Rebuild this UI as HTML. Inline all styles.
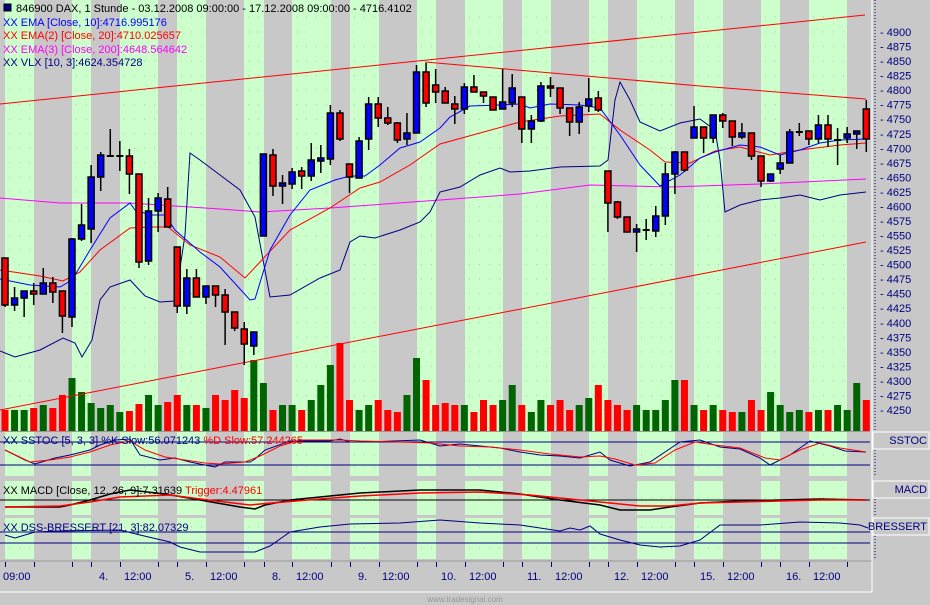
<!DOCTYPE html>
<html><head><meta charset="utf-8">
<style>
html,body{margin:0;padding:0;background:#c8c8c8;}
#w{position:relative;width:930px;height:605px;overflow:hidden;background:#c8c8c8;font-family:"Liberation Sans",sans-serif;}
svg{position:absolute;left:0;top:0;}
text{font-family:"Liberation Sans",sans-serif;font-size:11px;}
</style></head><body><div id="w">
<svg id="s" width="930" height="605" viewBox="0 0 930 605" xmlns="http://www.w3.org/2000/svg">
<g id="bands"></g>
<g id="grid"></g>
<g id="vol"></g>
<g id="lines" fill="none" stroke-width="1"></g>
<g id="candles"></g>
<g id="sub" fill="none"></g>
<line x1="0" y1="561" x2="872" y2="561" stroke="#999"/>
<line x1="0" y1="592" x2="872" y2="592" stroke="#fff"/>
<line x1="872" y1="0" x2="872" y2="592" stroke="#fff"/>
<line x1="875" y1="0" x2="875" y2="432" stroke="#000080" stroke-dasharray="1,2"/>
<line x1="875" y1="450" x2="875" y2="476" stroke="#000080" stroke-dasharray="1,2"/>
<line x1="875" y1="499" x2="875" y2="515" stroke="#000080" stroke-dasharray="1,2"/>
<line x1="875" y1="536" x2="875" y2="559" stroke="#000080" stroke-dasharray="1,2"/>
<g id="ticks" stroke="#000080"></g>
<g fill="#000080">
<text x="3" y="580">09:00</text>
<text x="99" y="580">4.</text>
<text x="124" y="580">12:00</text>
<text x="185" y="580">5.</text>
<text x="210" y="580">12:00</text>
<text x="272" y="580">8.</text>
<text x="296" y="580">12:00</text>
<text x="358" y="580">9.</text>
<text x="382" y="580">12:00</text>
<text x="441" y="580">10.</text>
<text x="469" y="580">12:00</text>
<text x="527" y="580">11.</text>
<text x="555" y="580">12:00</text>
<text x="614" y="580">12.</text>
<text x="641" y="580">12:00</text>
<text x="700" y="580">15.</text>
<text x="727" y="580">12:00</text>
<text x="786" y="580">16.</text>
<text x="813" y="580">12:00</text>
</g>
<g id="plabels" fill="#000080"></g>
<g stroke="#fff" fill="#c8c8c8">
<rect x="873" y="432" width="56" height="17"/>
<rect x="873" y="481" width="56" height="17"/>
<rect x="873" y="518" width="56" height="17"/>
</g>
<g fill="#000080" text-anchor="end">
<text x="927" y="444">SSTOC</text>
<text x="927" y="493">MACD</text>
<text x="927" y="530">BRESSERT</text>
</g>
<text x="465" y="602" fill="#999" text-anchor="middle" style="font-size:8px">www.tradesignal.com</text>
<rect x="4" y="4" width="7" height="7" fill="#000080" stroke="#000" stroke-width="1"/>
<text x="16" y="12" fill="#000">846900  DAX, 1 Stunde - 03.12.2008 09:00:00 - 17.12.2008 09:00:00 - 4716.4102</text>
<text x="3" y="26" fill="#0000ff">XX EMA [Close, 10]:4716.995176</text>
<text x="3" y="39" fill="#ff0000">XX EMA(2) [Close, 20]:4710.025657</text>
<text x="3" y="53" fill="#ff00ff">XX EMA(3) [Close, 200]:4648.564642</text>
<text x="3" y="66" fill="#000080">XX VLX [10, 3]:4624.354728</text>
<text x="3" y="444" fill="#000080">XX SSTOC [5, 3, 3] %K Slow:56.071243 <tspan fill="#ff0000">%D Slow:57.244265</tspan></text>
<text x="3" y="494" fill="#000">XX MACD [Close, 12, 26, 9]:7.31639 <tspan fill="#ff0000">Trigger:4.47961</tspan></text>
<text x="3" y="531" fill="#000080">XX DSS-BRESSERT [21, 3]:82.07329</text>
</svg>
<script>
var NS="http://www.w3.org/2000/svg";
function el(p,t,a){var e=document.createElementNS(NS,t);for(var k in a)e.setAttribute(k,a[k]);document.getElementById(p).appendChild(e);return e;}
var B=[[5,34],[72,91],[120,158],[177,206],[244,264],[292,331],[350,379],[417,436],[465,503],[522,551],[589,608],[637,675],[694,723],[761,780],[809,847]];
var P=[[0,432],[432,476],[481,515],[518,559]];
var GY=[];
for(var p=4900;p>=4250;p-=25){var y=32+(4900-p)*0.5815;GY.push(y);
 var t=el("plabels","text",{x:880,y:y+4});t.textContent="- "+p;}
GY=GY.concat([17,455,467,498,527,548]);
B.forEach(function(b){P.forEach(function(p){el("bands","rect",{x:b[0],y:p[0],width:b[1]-b[0],height:p[1]-p[0],fill:"#ccffcc"});});
 GY.forEach(function(y){el("grid","line",{x1:b[0]+4,y1:y,x2:b[1],y2:y,stroke:"#a8c8a8","stroke-dasharray":"1,9"});});
 el("ticks","line",{x1:b[0]+.5,y1:562,x2:b[0]+.5,y2:567});el("ticks","line",{x1:b[1]+.5,y1:562,x2:b[1]+.5,y2:567});});
var C=[[258,305,258,307,'r'],[298,305,287,311,'b'],[291,298,291,317,'b'],[291,294,283,305,'r'],[283,294,268,294,'b'],[283,292,277,303,'r'],[291,316,291,333,'r'],[239,317,238,327,'b'],[225,239,204,241,'b'],[177,229,165,243,'b'],[155,177,152,191,'b'],[155,156,129,156,'d'],[155,156,141,171,'d'],[156,174,149,194,'r'],[174,262,174,268,'r'],[211,261,198,265,'b'],[198,211,193,232,'b'],[199,227,187,227,'r'],[247,306,247,313,'r'],[278,306,269,314,'b'],[278,297,269,297,'r'],[286,297,286,304,'b'],[286,295,286,307,'r'],[295,312,289,345,'r'],[312,328,312,331,'r'],[329,344,322,365,'r'],[332,346,332,355,'b'],[154,236,154,236,'b'],[155,186,149,196,'r'],[183,186,175,204,'b'],[172,184,168,189,'b'],[171,176,167,189,'r'],[160,176,143,181,'b'],[158,161,145,173,'b'],[113,159,105,165,'b'],[113,139,110,141,'r'],[164,177,164,193,'r'],[141,178,137,178,'b'],[104,139,97,150,'b'],[104,118,97,127,'r'],[118,123,107,125,'r'],[123,140,122,143,'r'],[133,139,113,145,'b'],[72,133,65,133,'b'],[72,103,63,107,'r'],[85,92,69,103,'r'],[91,103,87,103,'r'],[104,109,96,124,'r'],[87,109,83,114,'b'],[87,92,75,92,'r'],[92,96,92,103,'r'],[97,110,97,110,'r'],[102,109,69,109,'b'],[88,103,74,107,'b'],[97,129,97,143,'r'],[121,129,115,143,'b'],[86,121,82,122,'b'],[86,88,77,97,'r'],[88,108,88,114,'r'],[108,122,108,136,'r'],[107,122,102,134,'b'],[99,106,78,112,'b'],[98,110,91,112,'r'],[171,203,171,232,'r'],[202,217,201,219,'r'],[217,232,217,232,'r'],[229,232,224,252,'b'],[229,231,219,240,'d'],[216,231,206,237,'b'],[174,216,163,225,'b'],[152,174,151,194,'b'],[152,170,152,172,'r'],[127,138,106,138,'b'],[127,138,127,153,'r'],[115,138,115,143,'b'],[115,121,113,128,'r'],[121,137,121,146,'r'],[133,137,123,139,'b'],[133,156,133,160,'r'],[156,181,156,187,'r'],[174,181,174,182,'b'],[163,169,155,174,'b'],[132,163,129,163,'b'],[131,132,123,136,'d'],[131,139,131,145,'r'],[125,139,115,143,'b'],[125,139,115,147,'r'],[139,140,128,165,'d'],[134,138,127,143,'b'],[131,134,131,149,'b'],[109,139,100,152,'r']];
var V=[410,410,410,408,405,408,395,378,392,403,408,405,412,411,404,395,405,402,395,405,405,408,395,400,390,398,360,383,410,405,405,410,400,385,365,343,400,410,405,400,410,412,395,358,380,405,403,405,405,412,400,405,400,385,405,412,400,405,400,410,405,398,385,400,405,410,405,410,410,400,380,380,405,410,405,410,412,412,400,410,392,405,412,410,412,410,410,405,410,383,400];
function cx(i){return 5+i*9.57;}
C.forEach(function(c,i){var x=cx(i),col=c[4]=='r'?'#ff0000':'#0000ff';
 var vy=V[i]||410;el("vol","rect",{x:x-3.5,y:vy,width:7,height:432-vy,fill:c[4]=='r'?'#ff0000':'#006400'});
 el("candles","line",{x1:x,y1:c[2],x2:x,y2:c[3],stroke:"#000","stroke-width":1.5});
 if(c[4]=='d'){el("candles","rect",{x:x-3.5,y:c[0],width:7,height:2,fill:"#000"});}
 else el("candles","rect",{x:x-3,y:c[0],width:6,height:Math.max(c[1]-c[0],2),fill:col,stroke:"#000","stroke-width":1.5});});
function pl(g,pts,col,w){el(g,"polyline",{points:pts,stroke:col,"stroke-width":w||1,fill:"none"});}
pl("lines","0,104 865,15","#ff0000");
pl("lines","425,62 540,72 700,86 866,99","#ff0000");
pl("lines","0,410 866,242","#ff0000");
pl("lines","0,198 60,203 130,203 220,209 260,212 330,208 440,200 520,194 590,185 670,187 760,184 866,179","#ff00ff");
pl("lines","0,351 15,357 40,350 63,338 75,343 82,357 92,340 100,300 110,287 130,280 145,296 160,302 175,301 185,235 190,153 200,160 220,175 240,190 255,217 270,297 290,295 320,278 340,270 350,242 360,236 375,238 400,230 420,222 430,212 440,192 460,187 480,175 500,168 510,172 530,171 560,167 600,166 608,160 615,100 620,82 630,100 640,122 660,131 680,123 700,119 715,130 720,160 725,212 740,205 760,200 780,198 800,195 820,200 840,195 866,192","#000080");
pl("lines","0,270 40,276 63,281 80,272 100,250 130,228 150,227 168,227 190,245 220,257 245,278 260,262 290,230 330,208 360,188 380,182 410,165 440,144 480,133 520,122 560,116 600,114 620,130 650,150 665,162 690,163 715,151 740,147 770,155 800,150 840,145 866,143","#ff0000");
pl("lines","0,279 30,285 60,287 72,280 90,250 110,218 130,203 135,210 150,215 165,215 175,230 200,252 220,267 250,300 255,299 270,250 290,215 310,190 335,180 350,176 365,176 380,165 400,148 420,142 440,128 450,117 470,106 500,105 520,104 530,108 550,104 580,105 600,108 620,135 640,165 660,186 680,175 700,158 715,152 740,145 760,147 780,155 800,150 820,143 840,140 866,139","#0000ff");
pl("lines","0,431.5 870,431.5","#999");
[442,465,532,543].forEach(function(y){pl("sub","0,"+y+" 870,"+y,"#000080");});
pl("sub","0,500 870,500","#000");
pl("sub","5,450 25,460 35,464 55,458 70,455 90,450 100,445 115,440 130,439 140,455 160,460 175,458 190,462 205,465 215,467 225,462 250,462 255,459 265,450 290,441 330,441 340,439 350,442 370,442 420,440 440,446 460,444 480,446 500,448 520,452 540,455 560,456 580,458 600,452 610,460 630,466 650,462 665,452 680,442 700,440 720,447 740,449 760,458 770,465 790,455 810,441 830,446 845,451 866,452","#000080");
pl("sub","5,450 30,462 50,460 70,457 90,452 110,445 130,441 145,450 165,457 185,460 205,463 220,464 245,462 260,456 280,446 300,440 340,440 360,441 400,442 430,443 460,446 490,447 520,450 550,454 580,457 600,456 615,459 635,465 655,463 675,450 695,442 715,445 740,448 765,458 780,460 800,450 820,443 840,448 866,452","#ff0000");
pl("sub","5,507 60,507 70,505 90,500 110,494 130,490 165,494 200,500 240,507 255,509 265,505 290,500 320,497 360,493 420,490 480,490 520,494 560,500 600,505 620,510 650,510 670,507 700,503 740,501 780,500 820,499 866,500","#000",1.5);
pl("sub","5,507 60,506 90,502 120,497 170,495 200,499 250,505 260,504 320,499 360,496 420,493 480,492 530,495 570,499 610,503 640,506 670,506 700,503 740,502 780,501 820,500 866,500","#ff0000",1.5);
pl("sub","5,535 15,538 35,532 60,531 120,530 140,535 170,542 180,547 200,552 230,552 255,552 270,546 290,532 320,527 350,524 400,523 440,520 480,523 520,525 560,531 570,528 580,530 590,526 600,534 620,540 640,545 660,547 680,546 700,540 720,525 760,525 800,522 840,523 860,525 868,528","#000080");
</script>
</div></body></html>
